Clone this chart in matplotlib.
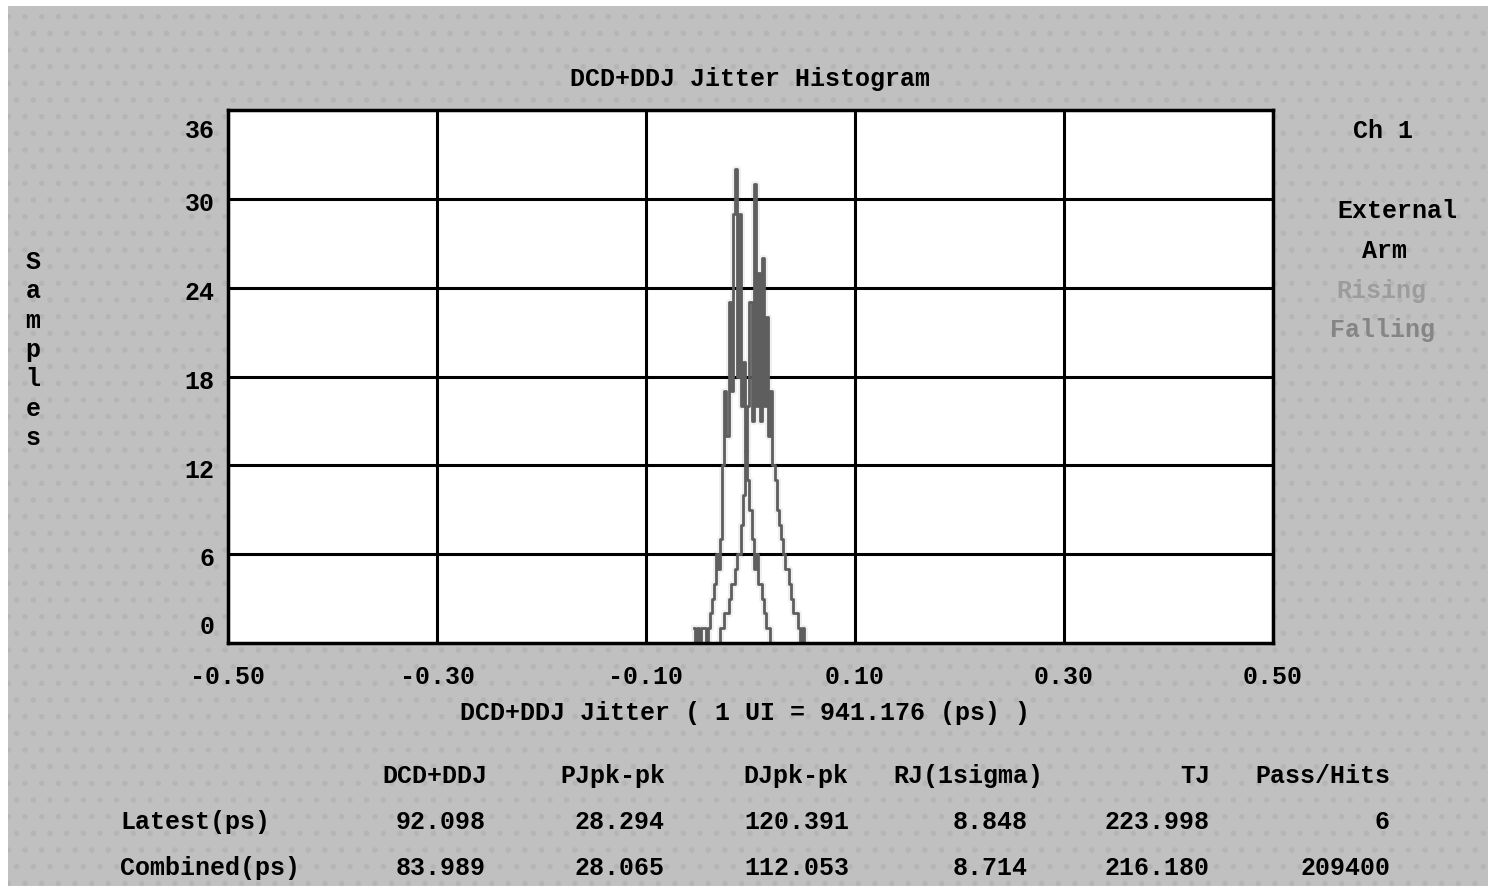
import matplotlib.pyplot as plt
import numpy as np
from matplotlib.patches import Rectangle
import matplotlib.transforms as mtransforms

# Histogram data (UI units, bin width 0.002 UI)
x_rise = np.round(np.arange(-0.054, 0.0201, 0.002), 3)
n_rise = [1, 0, 1, 0, 1, 1, 0, 1, 2, 3, 4, 6, 5, 7, 12, 17, 14, 23, 17, 29, 32,
          18, 29, 16, 19, 13, 11, 9, 7, 5, 6, 4, 4, 3, 2, 1, 1, 0]
x_fall = np.round(np.arange(-0.030, 0.0521, 0.002), 3)
n_fall = [0, 1, 1, 2, 2, 3, 4, 4, 5, 6, 6, 8, 10, 13, 16, 23, 15, 31, 16, 25, 15,
          26, 16, 22, 14, 17, 12, 11, 9, 8, 7, 6, 5, 5, 4, 3, 2, 2, 1, 0, 1, 0]

x_ticks = [-0.50, -0.30, -0.10, 0.10, 0.30, 0.50]
y_ticks = [0, 6, 12, 18, 24, 30, 36]

# Statistics table
col_names = ['DCD+DDJ', 'PJpk-pk', 'DJpk-pk', 'RJ(1sigma)', 'TJ', 'Pass/Hits']
row_names = ['Latest(ps)', 'Combined(ps)']
latest = ['92.098', '28.294', '120.391', '8.848', '223.998', '6']
combined = ['83.989', '28.065', '112.053', '8.714', '216.180', '209400']

W, H = 1490, 889
fnt = dict(family=['Liberation Mono', 'DejaVu Sans Mono'], weight='bold', size=18)


def fx(px):
    return px / W


def fy(py):
    return 1 - py / H


fig = plt.figure(figsize=(W / 100, H / 100), dpi=100, facecolor='white')
plt.rcParams['hatch.linewidth'] = 1.5
fig.patches.append(Rectangle((fx(8), fy(886)), fx(1480), 880 / H, transform=fig.transFigure,
                             facecolor='#c0c0c0', edgecolor='#b5b5b5', hatch='.', lw=0, zorder=-1))

ax = fig.add_axes([fx(228), fy(643), fx(1273 - 228), (643 - 110) / H])
ax.set_facecolor('white')

for xs, ns in [(x_rise, n_rise), (x_fall, n_fall)]:
    ax.plot(xs, ns, drawstyle='steps-mid', color='#f0f0f0', lw=5, zorder=2)
for xs, ns in [(x_rise, n_rise), (x_fall, n_fall)]:
    ax.plot(xs, ns, drawstyle='steps-mid', color='#5e5e5e', lw=2.0, zorder=3)

ax.set_xlim(-0.5, 0.5)
ax.set_ylim(0, 36)
ax.set_xticks(x_ticks)
ax.set_xticklabels(['%.2f' % v for v in x_ticks], **fnt)
ax.set_yticks(y_ticks[1:-1])
ax.set_yticklabels([])
ax.tick_params(length=0, pad=16)
ax.grid(True, color='black', lw=2.2, zorder=1)
ax.set_axisbelow(False)
for s in ax.spines.values():
    s.set_linewidth(2.5)
    s.set_zorder(4)

# y tick labels, offset slightly below the grid lines
trans = mtransforms.blended_transform_factory(ax.transAxes, ax.transData)
for v in y_ticks:
    ax.text(-0.013, np.clip(v - 0.35, 1.1, 34.6), str(v), transform=trans,
            ha='right', va='center', **fnt)

fig.text(fx(750), fy(79), 'DCD+DDJ Jitter Histogram', ha='center', va='center', **fnt)
fig.text(fx(745), fy(713), 'DCD+DDJ Jitter ( 1 UI = 941.176 (ps) )', ha='center', va='center', **fnt)
fig.text(fx(33), fy(350), '\n'.join('Samples'), ha='center', va='center', linespacing=1.28, **fnt)

fig.text(fx(1383), fy(131), 'Ch 1', ha='center', va='center', **fnt)
fig.text(fx(1397), fy(211), 'External', ha='center', va='center', **fnt)
fig.text(fx(1385), fy(251), 'Arm', ha='center', va='center', **fnt)
fig.text(fx(1381), fy(291), 'Rising', ha='center', va='center', color='#9c9c9c', **fnt)
fig.text(fx(1383), fy(330), 'Falling', ha='center', va='center', color='#858585', **fnt)

col_x = [487, 665, 848, 1043, 1210, 1390]
val_x = [486, 665, 849, 1028, 1210, 1390]
for cx, name in zip(col_x, col_names):
    fig.text(fx(cx), fy(776), name, ha='right', va='center', **fnt)
for ry, rname, vals in zip([822, 868], row_names, [latest, combined]):
    fig.text(fx(120), fy(ry), rname, ha='left', va='center', **fnt)
    for cx, v in zip(val_x, vals):
        fig.text(fx(cx), fy(ry), v, ha='right', va='center', **fnt)

fig.savefig('out.png', dpi=100, facecolor=fig.get_facecolor())
